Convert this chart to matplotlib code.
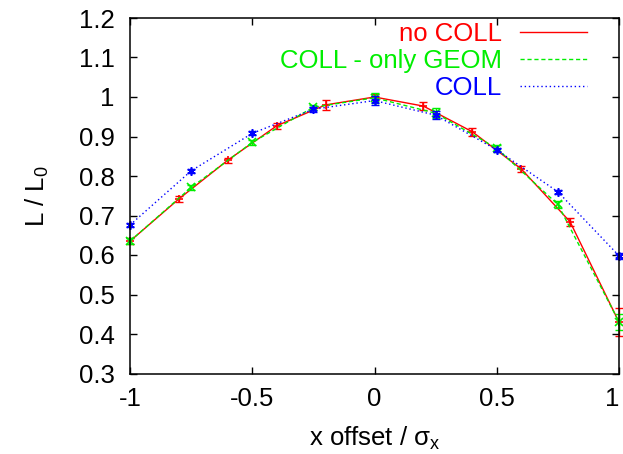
import matplotlib
matplotlib.use("Agg")
import matplotlib.pyplot as plt
from matplotlib.lines import Line2D

plt.rcParams['font.family'] = ['Liberation Sans', 'DejaVu Sans']
plt.rcParams['mathtext.fontset'] = 'custom'
plt.rcParams['mathtext.rm'] = 'Liberation Sans'
plt.rcParams['mathtext.it'] = 'Liberation Sans'

# Data
x_nocoll = [-1, -0.8, -0.6, -0.4, -0.2, 0, 0.2, 0.4, 0.6, 0.8, 1]
y_nocoll = [0.635, 0.742, 0.840, 0.927, 0.980, 1.000, 0.977, 0.912, 0.818, 0.684, 0.430]
e_nocoll = [0.008, 0.008, 0.006, 0.008, 0.012, 0.008, 0.010, 0.010, 0.008, 0.010, 0.036]

x_coll = [-1, -0.75, -0.5, -0.25, 0, 0.25, 0.5, 0.75, 1]
y_geom = [0.635, 0.771, 0.885, 0.974, 0.998, 0.959, 0.870, 0.728, 0.431]
e_geom = [0.008, 0.006, 0.006, 0.006, 0.012, 0.012, 0.008, 0.008, 0.020]
y_coll = [0.676, 0.813, 0.908, 0.969, 0.991, 0.954, 0.866, 0.760, 0.598]
e_coll = [0.006, 0.005, 0.005, 0.006, 0.012, 0.010, 0.006, 0.005, 0.008]

labels = ["no COLL", "COLL - only GEOM", "COLL"]
colors = ["#ff0000", "#00ee00", "#0000ff"]
xticks = [-1, -0.5, 0, 0.5, 1]
xtick_labels = ["-1", "-0.5", "0", "0.5", "1"]
yticks = [0.3, 0.4, 0.5, 0.6, 0.7, 0.8, 0.9, 1.0, 1.1, 1.2]
ytick_labels = ["0.3", "0.4", "0.5", "0.6", "0.7", "0.8", "0.9", "1", "1.1", "1.2"]

FS = 18.5

fig = plt.figure(figsize=(6.23, 4.54), dpi=100)
ax = fig.add_axes([130/623, 1 - 373.5/454, (619-130)/623, (373.5-18)/454])

styles = ['-', (0, (3, 2)), (0, (1, 2))]
markers = ['+', 'x', (6, 2, 0)]
series = [(x_nocoll, y_nocoll, e_nocoll), (x_coll, y_geom, e_geom), (x_coll, y_coll, e_coll)]
for (xs, ys, es), c, ls, mk in zip(series, colors, styles, markers):
    ax.plot(xs, ys, color=c, lw=1.0, ls=ls, clip_on=False)
    ax.errorbar(xs, ys, yerr=es, fmt='none', ecolor=c, elinewidth=1.0, capsize=3, capthick=1.0, clip_on=False)
    ax.plot(xs, ys, ls='none', marker=mk, color=c, ms=6, mew=1.2, clip_on=False)

ax.set_xlim(-1, 1)
ax.set_ylim(0.3, 1.2)
ax.set_xticks(xticks)
ax.set_xticklabels(xtick_labels)
ax.set_yticks(yticks)
ax.set_yticklabels(ytick_labels)
ax.tick_params(direction='in', length=5, width=1, labelsize=FS, top=True, right=True)
ax.tick_params(axis='y', pad=11)
ax.tick_params(axis='x', pad=10)
ax.get_xticklabels()[-1].set_horizontalalignment('right')
for s in ax.spines.values():
    s.set_linewidth(1.1)

ax.set_xlabel("x offset / σ$_\\mathrm{x}$", fontsize=FS, labelpad=10)
ax.set_ylabel("L / L$_\\mathrm{0}$", fontsize=FS, labelpad=20)

handles = [Line2D([], [], color=c, lw=1.0, ls=ls) for c, ls in zip(colors, styles)]
leg = ax.legend(handles, labels, loc='upper right', bbox_to_anchor=((587-130)/489, (373.5-22)/355.5),
                markerfirst=False, frameon=False, borderaxespad=0, borderpad=0,
                fontsize=FS, handlelength=2.6, handletextpad=0.7, labelspacing=0.12,
                labelcolor='linecolor')

fig.savefig("out.png", dpi=100)
